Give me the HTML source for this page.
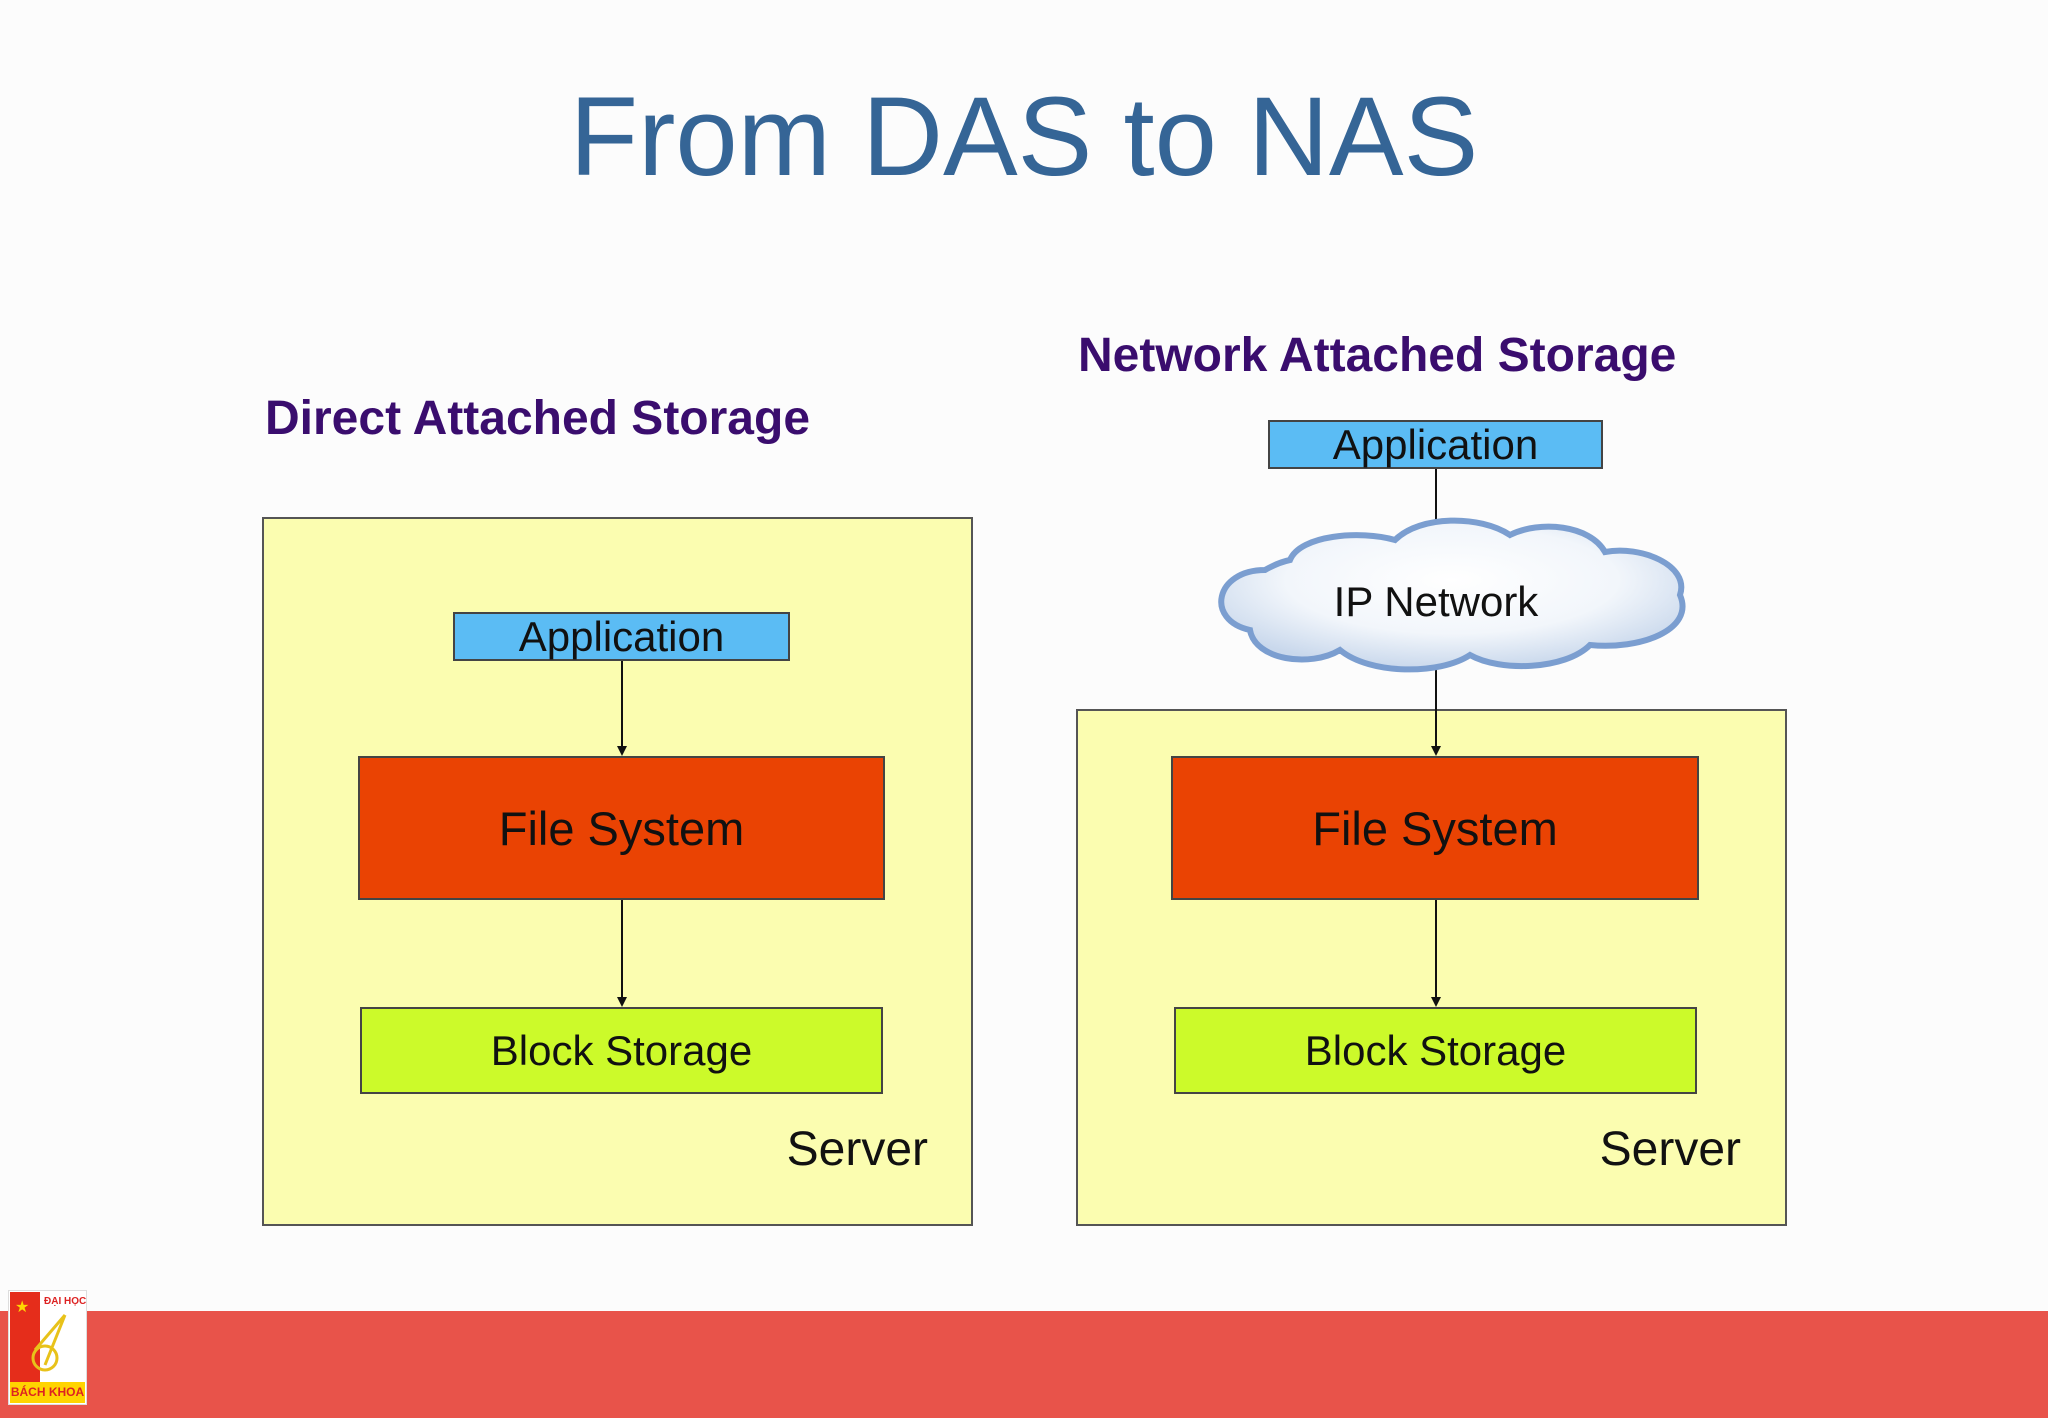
<!DOCTYPE html>
<html><head><meta charset="utf-8"><style>
body{margin:0;width:2048px;height:1418px;background:#fcfcfc;position:relative;overflow:hidden;font-family:"Liberation Sans",sans-serif}
div{position:absolute;box-sizing:border-box}
.c{display:flex;align-items:center;justify-content:center;color:#111}
.box{border:2px solid #444}
.app{background:#5bbcf4;font-size:42px}
.fs{background:#ea4303;font-size:47px}
.bs{background:#ccfa2a;font-size:42px}
.srv{background:#fbfdb0;border:2.5px solid #555}
.h{font-weight:bold;color:#3a0d6e;font-size:48px;white-space:nowrap}
.lbl{font-size:48px;color:#111}
</style></head><body>
<div style="left:0;width:2048px;top:72px;text-align:center;font-size:112px;color:#356596;line-height:130px">From DAS to NAS</div>
<div class="h" style="left:265px;top:391px">Direct Attached Storage</div>
<div class="h" style="left:1078px;top:328px">Network Attached Storage</div>

<div class="srv" style="left:262px;top:517px;width:711px;height:709px"></div>
<div class="srv" style="left:1076px;top:709px;width:711px;height:517px"></div>

<div class="c box app" style="left:453px;top:612px;width:337px;height:49px">Application</div>
<div class="c box fs" style="left:358px;top:756px;width:527px;height:144px">File System</div>
<div class="c box bs" style="left:360px;top:1007px;width:523px;height:87px">Block Storage</div>
<div class="lbl" style="left:760px;top:1122px;width:168px;text-align:right">Server</div>

<div class="c box app" style="left:1268px;top:420px;width:335px;height:49px">Application</div>
<div class="c box fs" style="left:1171px;top:756px;width:528px;height:144px">File System</div>
<div class="c box bs" style="left:1174px;top:1007px;width:523px;height:87px">Block Storage</div>
<div class="lbl" style="left:1573px;top:1122px;width:168px;text-align:right">Server</div>

<svg style="position:absolute;left:0;top:0" width="2048" height="1418">
<defs><marker id="a" markerWidth="10" markerHeight="10" refX="8" refY="5" orient="auto" markerUnits="userSpaceOnUse"><path d="M0,0 L10,5 L0,10z" fill="#111"/></marker>
<radialGradient id="g" cx="50%" cy="40%" r="60%"><stop offset="0" stop-color="#fff"/><stop offset="0.6" stop-color="#f2f6fb"/><stop offset="1" stop-color="#c9d8ec"/></radialGradient></defs>
<line x1="622" y1="661" x2="622" y2="754" stroke="#111" stroke-width="2" marker-end="url(#a)"/>
<line x1="622" y1="900" x2="622" y2="1005" stroke="#111" stroke-width="2" marker-end="url(#a)"/>
<line x1="1436" y1="469" x2="1436" y2="525" stroke="#111" stroke-width="2"/>
<line x1="1436" y1="665" x2="1436" y2="754" stroke="#111" stroke-width="2" marker-end="url(#a)"/>
<line x1="1436" y1="900" x2="1436" y2="1005" stroke="#111" stroke-width="2" marker-end="url(#a)"/>
<path d="M1265,570 C1215,570 1205,620 1250,630 C1255,660 1310,668 1340,650 C1370,675 1440,675 1470,655 C1500,672 1565,670 1590,645 C1640,650 1695,630 1680,595 C1690,565 1640,545 1605,552 C1590,525 1540,520 1510,535 C1480,515 1420,515 1395,540 C1360,530 1300,535 1290,560 C1280,562 1272,566 1265,570Z" fill="url(#g)" stroke="#7b9ed0" stroke-width="6"/>
<text x="1436" y="616" text-anchor="middle" font-family="Liberation Sans" font-size="42" fill="#111">IP Network</text>
</svg>

<div style="left:0;top:1311px;width:2048px;height:107px;background:#e8534a"></div>
<div style="left:8px;top:1290px;width:79px;height:115px;background:#fff;border:1px solid #ddd"></div>
<div style="left:10px;top:1292px;width:30px;height:90px;background:#e52d1b"></div>
<div style="left:15px;top:1297px;color:#ffd700;font-size:16px">★</div>
<div style="left:44px;top:1296px;color:#d22;font-size:10px;font-weight:bold;white-space:nowrap">ĐẠI HỌC</div>
<div style="left:10px;top:1382px;width:75px;height:21px;background:#ffd400;color:#d22;font-size:12px;font-weight:bold;text-align:center;line-height:21px;white-space:nowrap;overflow:hidden">BÁCH KHOA</div>
<svg style="position:absolute;left:20px;top:1310px" width="50" height="70"><path d="M45,5 L15,40 M45,5 L25,55" stroke="#e8c21a" stroke-width="3" fill="none"/><circle cx="25" cy="48" r="12" stroke="#e8c21a" stroke-width="3" fill="none"/></svg>
</body></html>
